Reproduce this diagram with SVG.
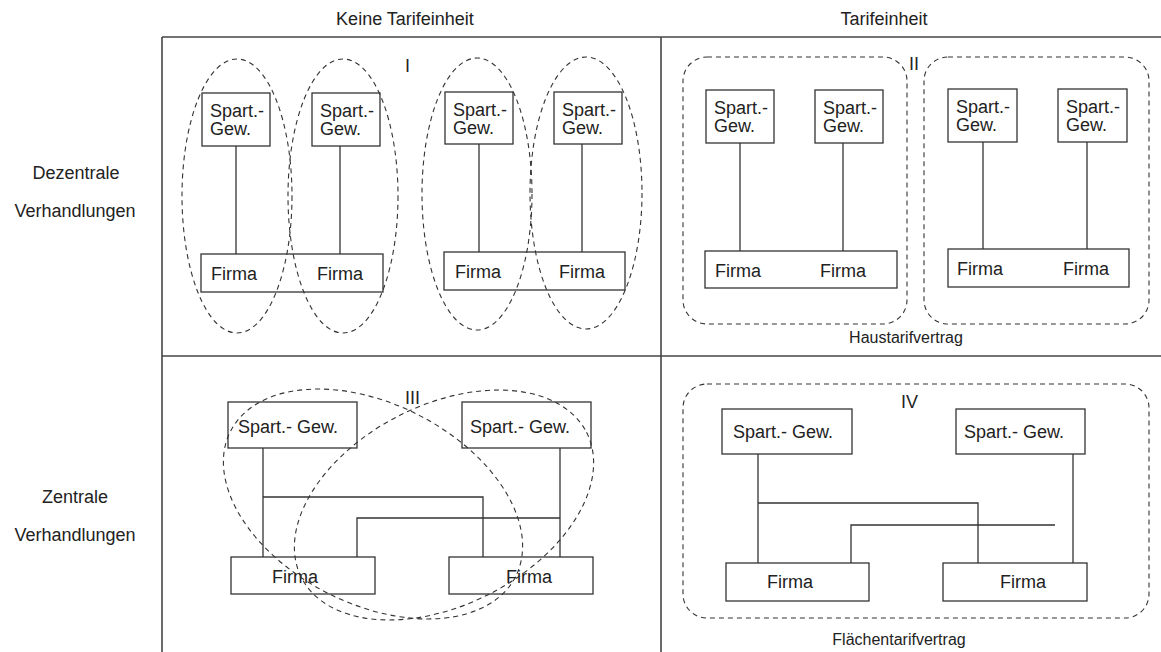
<svg xmlns="http://www.w3.org/2000/svg" width="1161" height="652" viewBox="0 0 1161 652">
<style>
text{font-family:"Liberation Sans",Arial,sans-serif;fill:#222;font-size:18px}
.lbl{font-size:16px}
.grid{stroke:#444;stroke-width:1.6;fill:none}
.box{fill:#fff;stroke:#333;stroke-width:1.3}
.dash{fill:none;stroke:#333;stroke-width:1.1;stroke-dasharray:5 4}
.ln{fill:none;stroke:#333;stroke-width:1.3}
</style>
<rect width="1161" height="652" fill="#fff"/>
<g id="grid">
<line class="grid" x1="162" y1="37" x2="1161" y2="37"/>
<line class="grid" x1="162" y1="356" x2="1161" y2="356"/>
<line class="grid" x1="162" y1="37" x2="162" y2="652"/>
<line class="grid" x1="661" y1="37" x2="661" y2="652"/>
</g>
<g id="headers">
<text x="405" y="25" text-anchor="middle">Keine Tarifeinheit</text>
<text x="884" y="25" text-anchor="middle">Tarifeinheit</text>
<text x="76" y="179" text-anchor="middle">Dezentrale</text>
<text x="75" y="217" text-anchor="middle">Verhandlungen</text>
<text x="75" y="503" text-anchor="middle">Zentrale</text>
<text x="75" y="541" text-anchor="middle">Verhandlungen</text>
</g>
<g id="connectors">
<line class="ln" x1="236" y1="146" x2="236" y2="254"/>
<line class="ln" x1="340" y1="146" x2="340" y2="254"/>
<line class="ln" x1="479" y1="144" x2="479" y2="252"/>
<line class="ln" x1="582" y1="144" x2="582" y2="252"/>
<line class="ln" x1="740" y1="143" x2="740" y2="251"/>
<line class="ln" x1="843" y1="143" x2="843" y2="251"/>
<line class="ln" x1="983" y1="142" x2="983" y2="249"/>
<line class="ln" x1="1087" y1="142" x2="1087" y2="249"/>
<line class="ln" x1="263" y1="448" x2="263" y2="557"/>
<polyline class="ln" points="263,497 483,497 483,557"/>
<line class="ln" x1="560" y1="448" x2="560" y2="557"/>
<polyline class="ln" points="357,557 357,518 560,518"/>
<line class="ln" x1="758" y1="454" x2="758" y2="563"/>
<polyline class="ln" points="758,503 978,503 978,563"/>
<line class="ln" x1="1073" y1="454" x2="1073" y2="563"/>
<polyline class="ln" points="851,563 851,525 1055,525"/>
</g>
<g id="q1">
<g id="q1-spart1"><rect class="box" x="202" y="93" width="68" height="53"/><text x="210" y="117">Spart.-</text><text x="210" y="135">Gew.</text></g>
<g id="q1-spart2"><rect class="box" x="312" y="93" width="68" height="53"/><text x="320" y="117">Spart.-</text><text x="320" y="135">Gew.</text></g>
<g id="q1-firma1"><rect class="box" x="201" y="254" width="182" height="38"/><text x="211" y="280">Firma</text><text x="317" y="280">Firma</text></g>
<g id="q1-spart3"><rect class="box" x="445" y="92" width="68" height="52"/><text x="453" y="116">Spart.-</text><text x="453" y="134">Gew.</text></g>
<g id="q1-spart4"><rect class="box" x="554" y="92" width="68" height="52"/><text x="562" y="116">Spart.-</text><text x="562" y="134">Gew.</text></g>
<g id="q1-firma2"><rect class="box" x="444" y="252" width="181" height="38"/><text x="455" y="278">Firma</text><text x="559" y="278">Firma</text></g>
<ellipse class="dash" cx="237" cy="196" rx="55" ry="137"/>
<ellipse class="dash" cx="343" cy="196" rx="55" ry="137"/>
<ellipse class="dash" cx="477" cy="194" rx="55" ry="136"/>
<ellipse class="dash" cx="586" cy="193" rx="56" ry="136"/>
<text x="405" y="72">I</text>
</g>
<g id="q2">
<rect class="dash" x="683" y="57" width="224" height="267" rx="24"/>
<rect class="dash" x="924" y="57" width="225" height="267" rx="24"/>
<g id="q2-spart1"><rect class="box" x="706" y="90" width="68" height="53"/><text x="714" y="114">Spart.-</text><text x="714" y="132">Gew.</text></g>
<g id="q2-spart2"><rect class="box" x="815" y="90" width="68" height="53"/><text x="823" y="114">Spart.-</text><text x="823" y="132">Gew.</text></g>
<g id="q2-firma1"><rect class="box" x="705" y="251" width="192" height="37"/><text x="715" y="277">Firma</text><text x="820" y="277">Firma</text></g>
<g id="q2-spart3"><rect class="box" x="948" y="89" width="69" height="53"/><text x="956" y="113">Spart.-</text><text x="956" y="131">Gew.</text></g>
<g id="q2-spart4"><rect class="box" x="1058" y="89" width="69" height="53"/><text x="1066" y="113">Spart.-</text><text x="1066" y="131">Gew.</text></g>
<g id="q2-firma2"><rect class="box" x="948" y="249" width="181" height="38"/><text x="957" y="275">Firma</text><text x="1063" y="275">Firma</text></g>
<text x="909" y="70">II</text>
<text class="lbl" x="906" y="343" text-anchor="middle">Haustarifvertrag</text>
</g>
<g id="q3">
<g id="q3-spart1"><rect class="box" x="228" y="402" width="129" height="46"/><text x="238" y="433">Spart.- Gew.</text></g>
<g id="q3-spart2"><rect class="box" x="462" y="402" width="129" height="46"/><text x="470" y="433">Spart.- Gew.</text></g>
<g id="q3-firma1"><rect class="box" x="231" y="557" width="144" height="37"/><text x="272" y="583">Firma</text></g>
<g id="q3-firma2"><rect class="box" x="449" y="557" width="144" height="37"/><text x="506" y="583">Firma</text></g>
<ellipse class="dash" cx="0" cy="0" rx="160" ry="100" transform="translate(373 504) rotate(27)"/>
<ellipse class="dash" cx="0" cy="0" rx="160" ry="100" transform="translate(444 505) rotate(-27)"/>
<text x="405" y="404">III</text>
</g>
<g id="q4">
<rect class="dash" x="683" y="384" width="466" height="234" rx="24"/>
<g id="q4-spart1"><rect class="box" x="722" y="409" width="130" height="45"/><text x="733" y="438">Spart.- Gew.</text></g>
<g id="q4-spart2"><rect class="box" x="956" y="409" width="129" height="45"/><text x="964" y="438">Spart.- Gew.</text></g>
<g id="q4-firma1"><rect class="box" x="726" y="563" width="143" height="38"/><text x="767" y="588">Firma</text></g>
<g id="q4-firma2"><rect class="box" x="943" y="563" width="144" height="38"/><text x="1000" y="588">Firma</text></g>
<text x="901" y="408">IV</text>
<text class="lbl" x="899" y="645" text-anchor="middle">Flächentarifvertrag</text>
</g>
</svg>
